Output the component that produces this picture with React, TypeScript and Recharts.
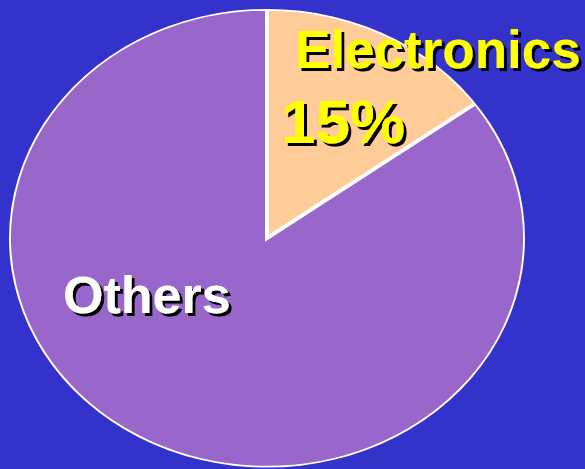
import { PieChart, Pie, Cell } from 'recharts';

// slide values
const categories = ['Electronics', 'Others'];
const shares = [15, 85];
const sliceColors = ['#FFCC99', '#9966CC'];
const labelColors = ['#FFFF00', '#FFFFFF'];
const rim = [{ name: 'rim', value: 1 }];

const W = 585;
const H = 469;
const BG = '#3333CC';
const K = 0.889; // the slide pie is an ellipse, so squash a round one vertically
const CHART_H = Math.round(H / K);
const CX = 267;
const CY = 268;
const R = 258;
const FONT = "'Liberation Sans', Arial, Helvetica, sans-serif";

// where each label sits, in screen px from the pie centre
const labelSpots: { kind: 'name' | 'pct'; dx: number; dy: number; size: number }[][] = [
  [
    { kind: 'name', dx: 28, dy: -170, size: 53 },
    { kind: 'pct', dx: 14, dy: -95, size: 62 },
  ],
  [{ kind: 'name', dx: -204, dy: 75, size: 52 }],
];

const data = categories.map((name, i) => ({ name, value: shares[i] }));

function renderLabel(props: any) {
  const { index } = props;
  const cx = props.cx ?? CX;
  const cy = props.cy ?? CY;
  const spots = labelSpots[index] || [];
  return (
    <g transform={`scale(1, ${1 / K})`}>
      {spots.map((s, j) => (
        <text
          key={j}
          x={cx + s.dx}
          y={cy * K + s.dy}
          fill={labelColors[index]}
          fontSize={s.size}
          fontWeight="bold"
          fontFamily={FONT}
          textAnchor="start"
          filter="url(#dropShadow)"
        >
          {s.kind === 'name' ? categories[index] : `${shares[index]}%`}
        </text>
      ))}
    </g>
  );
}

export default function App() {
  return (
    <div style={{ position: 'fixed', left: 0, top: 0, width: W, height: H, background: BG, overflow: 'hidden' }}>
      <svg width={0} height={0} style={{ position: 'absolute' }}>
        <defs>
          <filter id="dropShadow" x="-10%" y="-10%" width="130%" height="140%">
            <feDropShadow dx={3} dy={3} stdDeviation={0} floodColor="#000000" floodOpacity={1} />
          </filter>
        </defs>
      </svg>
      <div style={{ width: W, height: CHART_H, transform: `scaleY(${K})`, transformOrigin: 'top left' }}>
        <PieChart width={W} height={CHART_H} margin={{ top: 0, right: 0, bottom: 0, left: 0 }}>
          <Pie
            data={data}
            dataKey="value"
            nameKey="name"
            cx={CX}
            cy={CY}
            outerRadius={R}
            startAngle={90}
            endAngle={-270}
            stroke="#FFFFFF"
            strokeWidth={4}
            labelLine={false}
            isAnimationActive={false}
          >
            {data.map((d, i) => (
              <Cell key={d.name} fill={sliceColors[i]} />
            ))}
          </Pie>
          {/* trims the outer half of the thick stroke so the rim stays thin */}
          <Pie
            data={rim}
            dataKey="value"
            cx={CX}
            cy={CY}
            innerRadius={R}
            outerRadius={R + 10}
            startAngle={90}
            endAngle={-270}
            fill={BG}
            stroke="none"
            isAnimationActive={false}
          />
          {/* labels drawn last so they sit above the rim */}
          <Pie
            data={data}
            dataKey="value"
            nameKey="name"
            cx={CX}
            cy={CY}
            outerRadius={R}
            startAngle={90}
            endAngle={-270}
            fill="none"
            stroke="none"
            label={renderLabel}
            labelLine={false}
            isAnimationActive={false}
          />
        </PieChart>
      </div>
    </div>
  );
}
